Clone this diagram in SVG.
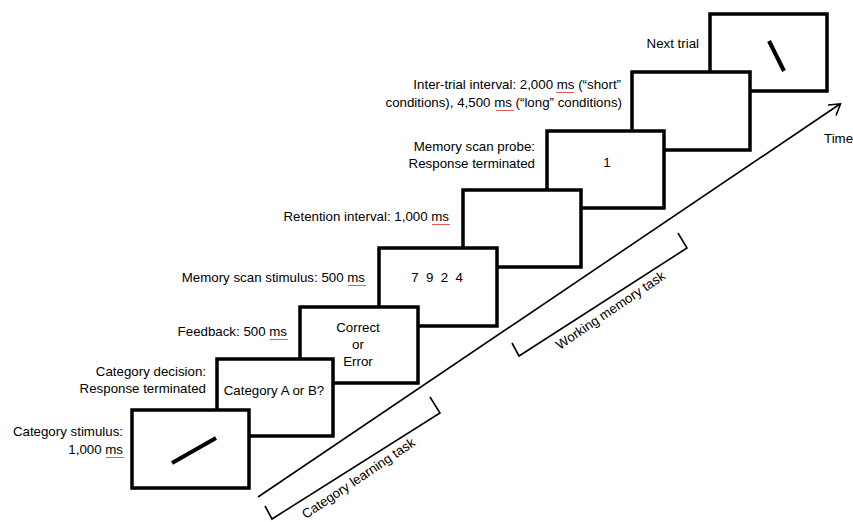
<svg xmlns="http://www.w3.org/2000/svg" width="853" height="522" viewBox="0 0 853 522">
<style>
.box{fill:#fff;stroke:#000;stroke-width:3.5}
.t{font-family:"Liberation Sans",Arial,sans-serif;font-size:13.3px;fill:#000}
.e{text-anchor:end}
.m{text-anchor:middle}
.ln{stroke:#000;stroke-width:4;stroke-linecap:butt}
.conn{fill:none;stroke:#000;stroke-width:1.6}
.sq{fill:none;stroke:#e03030;stroke-width:0.8}
</style>
<defs>
<path id="sq" d="M0,0 l1,1 l1,-1 l1,1 l1,-1 l1,1 l1,-1 l1,1 l1,-1 l1,1 l1,-1 l1,1 l1,-1 l1,1 l1,-1 l1,1 l1,-1 l1,1 l1,-1"/>
</defs>
<rect width="853" height="522" fill="#fff"/>

<g id="next-trial">
<rect class="box" x="710" y="14" width="117" height="77"/>
<line class="ln" x1="769" y1="41" x2="784" y2="71"/>
<text class="t e" x="699" y="48">Next trial</text>
</g>
<g id="inter-trial-interval">
<rect class="box" x="632" y="72" width="118" height="78"/>
<text class="t e" x="621" y="89">Inter-trial interval: 2,000 ms (“short”</text>
<text class="t e" x="622" y="107">conditions), 4,500 ms (“long” conditions)</text>
<use href="#sq" class="sq" x="556" y="92"/>
<use href="#sq" class="sq" x="496" y="110"/>
</g>
<g id="memory-scan-probe">
<rect class="box" x="547" y="131" width="117" height="77"/>
<text class="t m" x="607" y="167">1</text>
<text class="t e" x="535" y="151">Memory scan probe:</text>
<text class="t e" x="535" y="168">Response terminated</text>
</g>
<g id="retention-interval">
<rect class="box" x="463" y="190" width="118" height="77"/>
<text class="t e" x="449" y="221">Retention interval: 1,000 ms</text>
<use href="#sq" class="sq" x="432" y="224"/>
</g>
<g id="memory-scan-stimulus">
<rect class="box" x="379" y="248" width="118" height="78"/>
<text class="t m" x="437" y="282" xml:space="preserve">7  9  2  4</text>
<text class="t e" x="365" y="282">Memory scan stimulus: 500 ms</text>
<use href="#sq" class="sq" x="348" y="285"/>
</g>
<g id="feedback">
<rect class="box" x="300" y="307" width="118" height="76"/>
<text class="t m" x="358" y="332">Correct</text>
<text class="t m" x="358" y="349">or</text>
<text class="t m" x="358" y="366">Error</text>
<text class="t e" x="287" y="336">Feedback: 500 ms</text>
<use href="#sq" class="sq" x="270" y="339"/>
</g>
<g id="category-decision">
<rect class="box" x="217" y="359" width="116" height="77"/>
<text class="t m" x="274" y="395">Category A or B?</text>
<text class="t e" x="206" y="376">Category decision:</text>
<text class="t e" x="206" y="393">Response terminated</text>
</g>
<g id="category-stimulus">
<rect class="box" x="132" y="410" width="117" height="78"/>
<line class="ln" x1="172" y1="463" x2="216" y2="438"/>
<text class="t e" x="123" y="436">Category stimulus:</text>
<text class="t e" x="123" y="454">1,000 ms</text>
<use href="#sq" class="sq" x="106" y="457"/>
</g>

<g id="connectors">
<line class="conn" x1="258" y1="497" x2="840" y2="104"/>
<polyline class="conn" points="828,105 840.5,104 836,115.5"/>
<polyline class="conn" points="265,506 272,519 440,413 430,397"/>
<polyline class="conn" points="512,343 519,356 687,248 678,233"/>
</g>

<g id="labels">
<text class="t" x="824" y="143">Time</text>
<text class="t m" transform="translate(361,482) rotate(-34)">Category learning task</text>
<text class="t m" transform="translate(613,314) rotate(-34)">Working memory task</text>
</g>
</svg>
